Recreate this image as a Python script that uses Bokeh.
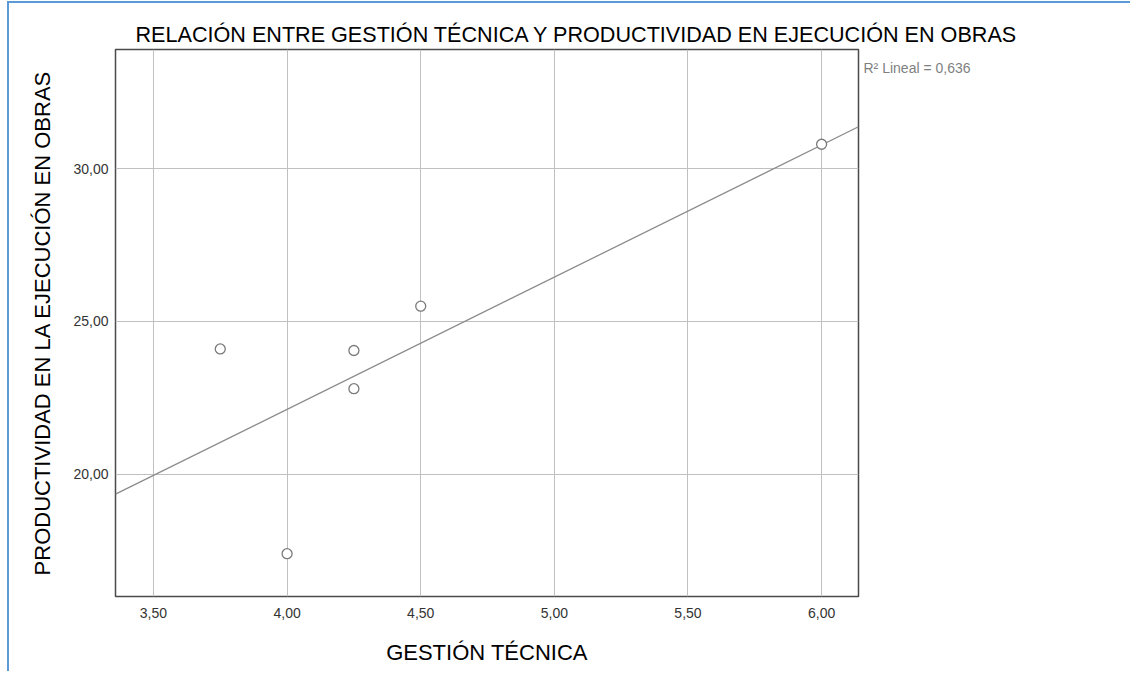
import numpy as np
from bokeh.plotting import figure
from bokeh.models import FixedTicker, Range1d, CustomJSTickFormatter, LinearAxis
from bokeh.embed import file_html
from bokeh.resources import INLINE

# data
gestion_tecnica = [3.75, 4.00, 4.25, 4.25, 4.50, 6.00]
productividad = [24.10, 17.40, 24.05, 22.80, 25.50, 30.80]
x_ticks = [3.5, 4.0, 4.5, 5.0, 5.5, 6.0]
y_ticks = [20, 25, 30]
title_text = "RELACIÓN ENTRE GESTIÓN TÉCNICA Y PRODUCTIVIDAD EN EJECUCIÓN EN OBRAS"
x_label = "GESTIÓN TÉCNICA"
y_label = "PRODUCTIVIDAD EN LA EJECUCIÓN EN OBRAS"
r2_text = "R² Lineal = 0,636"

FONT = "Liberation Sans"

x_range = Range1d(3.358, 6.138)
y_range = Range1d(16.0, 33.9)

p = figure(width=1123, height=670, output_backend="svg", toolbar_location=None,
           x_range=x_range, y_range=y_range,
           min_border_left=106, min_border_top=46, min_border_right=274, min_border_bottom=77)
p.styles = {"margin-left": "7px", "margin-top": "1px",
            "border-top": "2px solid #5b9bd5", "border-left": "2px solid #5b9bd5"}

p.outline_line_color = "#4a4a4a"
p.outline_line_width = 1.5
p.background_fill_color = "white"
p.border_fill_color = "white"

# title
p.title.text = title_text
p.title.align = "left"
p.title.offset = 20
p.title.standoff = 6
p.title.text_font = FONT
p.title.text_font_size = "21.6px"
p.title.text_font_style = "normal"
p.title.text_color = "#000000"

# grid
p.xgrid.ticker = FixedTicker(ticks=x_ticks)
p.ygrid.ticker = FixedTicker(ticks=y_ticks)
for g in (p.xgrid, p.ygrid):
    g.grid_line_color = "#c0c0c0"
    g.grid_line_width = 1

fmt = CustomJSTickFormatter(code="return tick.toFixed(2).replace('.', ',');")
for ax, ticks in ((p.xaxis[0], x_ticks), (p.yaxis[0], y_ticks)):
    ax.ticker = FixedTicker(ticks=ticks)
    ax.formatter = fmt
    ax.axis_line_color = None
    ax.major_tick_line_color = None
    ax.minor_tick_line_color = None
    ax.major_tick_out = 0
    ax.major_tick_in = 0
    ax.minor_tick_out = 0
    ax.minor_tick_in = 0
    ax.major_label_text_font = FONT
    ax.major_label_text_font_size = "14px"
    ax.major_label_text_color = "#333333"
    ax.axis_label_text_font = FONT
    ax.axis_label_text_font_size = "22px"
    ax.axis_label_text_font_style = "normal"
    ax.axis_label_text_color = "#000000"

p.xaxis.axis_label = x_label
p.yaxis.axis_label = y_label
p.xaxis.major_label_standoff = 11
p.yaxis.major_label_standoff = 7
p.xaxis.axis_label_standoff = 19
p.yaxis.axis_label_standoff = 15

# fit-line annotation placed beside the top right corner of the frame
r2_pos = 33.31
r2_axis = LinearAxis(ticker=FixedTicker(ticks=[r2_pos]),
                     major_label_overrides={r2_pos: r2_text},
                     axis_line_color=None, major_tick_line_color=None,
                     minor_tick_line_color=None, major_tick_out=0, major_tick_in=0,
                     minor_tick_out=0, minor_tick_in=0,
                     major_label_standoff=5, major_label_text_font=FONT,
                     major_label_text_font_size="14px", major_label_text_color="#7f7f7f")
p.add_layout(r2_axis, "right")

# regression line fitted from the data
slope, intercept = np.polyfit(gestion_tecnica, productividad, 1)
lx = [x_range.start, x_range.end]
ly = [intercept + slope * v for v in lx]
p.line(lx, ly, line_color="#8c8c8c", line_width=1.3)

p.scatter(gestion_tecnica, productividad, size=10, marker="circle",
          fill_color="white", line_color="#7a7a7a", line_width=1.3)

open("out.html", "w").write(file_html(p, INLINE))
